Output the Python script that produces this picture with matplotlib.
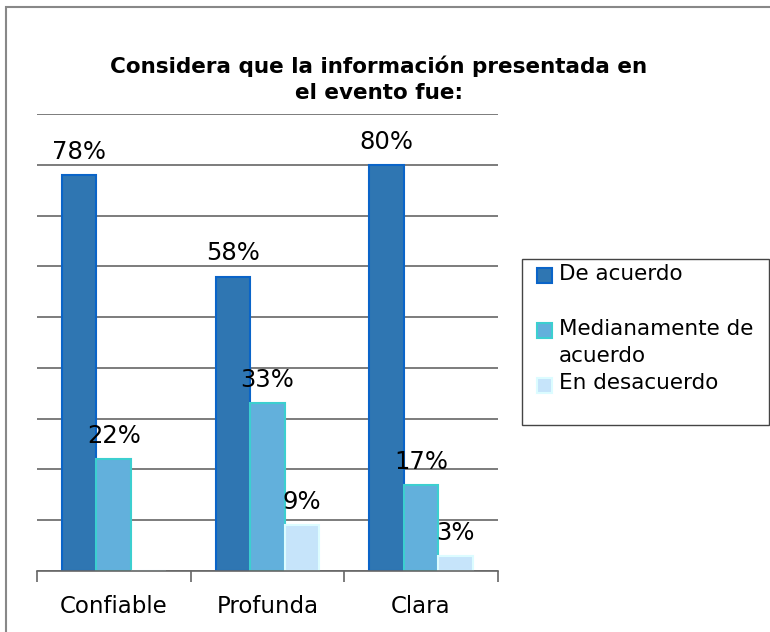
import numpy as np
import matplotlib.pyplot as plt
from matplotlib.patches import Rectangle

categorias = ["Confiable", "Profunda", "Clara"]
series = ["De acuerdo\n", "Medianamente de\nacuerdo", "En desacuerdo\n"]
de_acuerdo = [0.78, 0.58, 0.80]
medianamente = [0.22, 0.33, 0.17]
desacuerdo = [0.0, 0.09, 0.03]
etiquetas = [["78%", "58%", "80%"], ["22%", "33%", "17%"], [None, "9%", "3%"]]

titulo = "Considera que la información presentada en\nel evento fue:"

colores = ["#2f76b2", "#62b0dc", "#c6e4fa"]
bordes = ["#0a64c8", "#3ccfd0", "#dcfcff"]

plt.rcParams['font.family'] = ['DejaVu Sans']

fig = plt.figure(figsize=(7.7, 6.32), dpi=100)
ax = fig.add_axes([0.048, 0.0965, 0.5985, 0.7231])

# marco exterior (solo se ven los bordes izquierdo y superior)
fig.patches.append(Rectangle((6/770, -0.5), 2.0, 1.5 - 7/632, transform=fig.transFigure,
                             fill=False, edgecolor="#888888", linewidth=1.5))
# marco de la leyenda
fig.patches.append(Rectangle((522/770, 1 - 425/632), 247/770, 166/632,
                             transform=fig.transFigure, fill=False,
                             edgecolor="#444444", linewidth=1.0))

x = np.arange(len(categorias))
w = 0.225
valores = [de_acuerdo, medianamente, desacuerdo]
for i, vals in enumerate(valores):
    ax.bar(x + (i - 1) * w, vals, w, color=colores[i], edgecolor=bordes[i],
           linewidth=1.5, label=series[i], zorder=2)
    for j, v in enumerate(vals):
        if etiquetas[i][j] is None:
            continue
        ax.annotate(etiquetas[i][j], (x[j] + (i - 1) * w, v), xytext=(0, 8),
                    textcoords="offset points", ha="center", va="bottom",
                    fontsize=17.5, zorder=3)

ax.set_xlim(-0.5, 2.5)
ax.set_ylim(0, 0.9)
ax.set_yticks(np.arange(0, 0.91, 0.1))
ax.yaxis.grid(True, color="#666666", linewidth=1.2, zorder=0)
ax.set_axisbelow(True)
ax.tick_params(axis="y", length=0, labelleft=False)
ax.set_xticks(x)
ax.set_xticklabels(categorias, fontsize=16.5)
ax.set_xticks([-0.5, 0.5, 1.5, 2.5], minor=True)
ax.tick_params(axis="x", which="major", length=0, pad=17)
ax.tick_params(axis="x", which="minor", length=8, color="#666666", width=1.2)
for s in ["left", "right", "top"]:
    ax.spines[s].set_visible(False)
ax.spines["bottom"].set_color("#666666")
ax.spines["bottom"].set_linewidth(1.2)

fig.text(0.492, 1 - 79/632, titulo, ha="center", va="center", fontsize=15.5,
         fontweight="bold", linespacing=1.35)

leg = fig.legend(loc="upper left", bbox_to_anchor=(537/770, 1 - 264/632),
                 fontsize=15.5, frameon=False,
                 handlelength=0.7, handleheight=0.7, handletextpad=0.3,
                 labelspacing=0.35, borderpad=0, borderaxespad=0)
for t in leg.get_texts():
    t.set_linespacing(1.45)
for col in leg._legend_handle_box.get_children():
    for fila in col.get_children():
        fila.align = "top"
for h in leg.legend_handles:
    h.set_y(h.get_y() - 3)

fig.savefig("out.png", dpi=100)
